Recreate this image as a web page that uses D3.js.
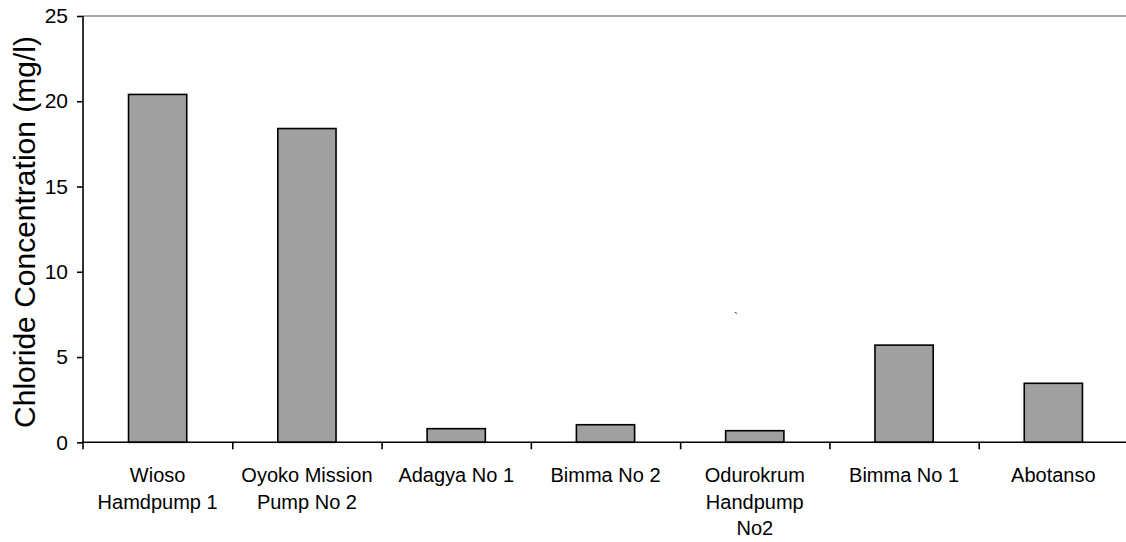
<!DOCTYPE html>
<html>
<head>
<meta charset="utf-8">
<script src="https://cdn.jsdelivr.net/npm/d3@7"></script>
<style>
  html, body { margin: 0; padding: 0; background: #fff; }
  svg { display: block; font-family: "Liberation Sans", Arial, sans-serif; }
</style>
</head>
<body>
<svg id="chart" width="1126" height="542"></svg>
<script>
// ---- data ----
const categories = [
  "Wioso\nHamdpump 1",
  "Oyoko Mission\nPump No 2",
  "Adagya No 1",
  "Bimma No 2",
  "Odurokrum\nHandpump\nNo2",
  "Bimma No 1",
  "Abotanso"
];
const chloride = [20.4, 18.4, 0.8, 1.03, 0.68, 5.7, 3.46];
const yTicks = [0, 5, 10, 15, 20, 25];
const yTitle = "Chloride Concentration (mg/l)";

(function () {
// ---- layout ----
const svg = d3.select("#chart");
const mLeft = 83, mRight = 1128, mTop = 16, mBottom = 442.3;

const x = d3.scaleBand()
  .domain(categories)
  .range([mLeft, mRight])
  .paddingInner(0.61)
  .paddingOuter(0.305);

const xIdx = d3.scaleLinear().domain([0, categories.length]).range([mLeft, mRight]);

const y = d3.scaleLinear().domain([0, 25]).range([mBottom, mTop]);

// top border line
svg.append("line")
  .attr("x1", mLeft).attr("x2", 1126)
  .attr("y1", y(25)).attr("y2", y(25))
  .attr("stroke", "#8c8c8c").attr("stroke-width", 1.5);

// bars
svg.append("g").selectAll("rect")
  .data(categories)
  .join("rect")
  .attr("x", d => x(d))
  .attr("width", x.bandwidth())
  .attr("y", (d, i) => y(chloride[i]))
  .attr("height", (d, i) => y(0) - y(chloride[i]))
  .attr("fill", "#a0a0a0")
  .attr("stroke", "#000")
  .attr("stroke-width", 1.6);

// y axis
const yAxis = svg.append("g")
  .attr("transform", `translate(${mLeft},0)`)
  .call(d3.axisLeft(y).tickValues(yTicks).tickSize(6).tickPadding(9));
yAxis.select(".domain").attr("stroke", "#000").attr("stroke-width", 1.6)
  .attr("d", `M0,${mTop}V${mBottom + 7}`);
yAxis.selectAll(".tick line").attr("stroke", "#000").attr("stroke-width", 1.6);
yAxis.selectAll(".tick text")
  .attr("font-size", 21).attr("fill", "#000")
  .attr("font-family", "Liberation Sans, Arial, sans-serif");

// x axis line + boundary ticks
const xTickAxis = svg.append("g")
  .attr("transform", `translate(0,${mBottom})`)
  .call(d3.axisBottom(xIdx).tickValues(d3.range(1, categories.length)).tickSize(7).tickFormat(""));
xTickAxis.select(".domain").attr("stroke", "#000").attr("stroke-width", 1.6)
  .attr("d", `M${mLeft},0H1126`);
xTickAxis.selectAll(".tick line").attr("stroke", "#000").attr("stroke-width", 1.6);

// x category labels
const xLab = svg.append("g")
  .attr("transform", `translate(0,${mBottom})`)
  .call(d3.axisBottom(x).tickSize(0).tickPadding(0));
xLab.select(".domain").remove();
xLab.selectAll(".tick text").each(function(d) {
  const t = d3.select(this);
  t.text(null).attr("y", 0).attr("dy", null)
    .attr("font-size", 20).attr("fill", "#000")
    .attr("font-family", "Liberation Sans, Arial, sans-serif");
  d.split("\n").forEach((line, i) => {
    t.append("tspan").attr("x", 0).attr("y", 40 + i * 26.5).text(line);
  });
});

// y title
svg.append("text")
  .attr("transform", `translate(35,232) rotate(-90)`)
  .attr("text-anchor", "middle")
  .attr("font-size", 30)
  .attr("fill", "#000")
  .text(yTitle);

// stray mark present in the original
svg.append("text")
  .attr("x", 734).attr("y", 322)
  .attr("font-size", 12)
  .attr("fill", "#333")
  .text("`");
})();
</script>
</body>
</html>
